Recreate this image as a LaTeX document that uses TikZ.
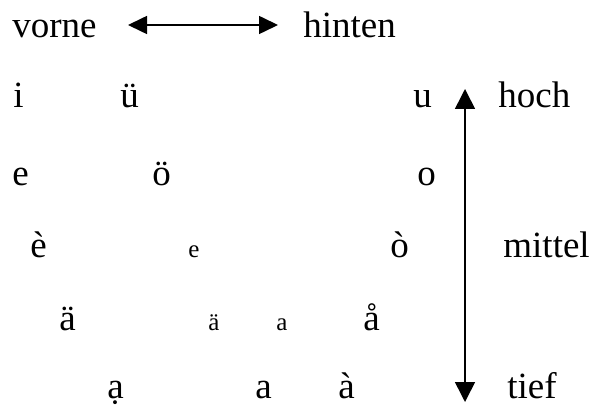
\documentclass[tikz,border=0pt]{standalone}
\usepackage{fontspec}
\setmainfont{Liberation Serif}
\usetikzlibrary{arrows.meta}

\begin{document}
\begin{tikzpicture}[x=0.5pt, y=-0.5pt,
    vow/.style={anchor=base west, inner sep=0pt, font=\fontsize{18.5}{22}\selectfont},
    vows/.style={vow, font=\fontsize{12.5}{15}\selectfont},
    arr/.style={{Triangle[length=9.5pt,width=9pt]}-{Triangle[length=9.5pt,width=9pt]},
      line width=0.8pt}]
\useasboundingbox (0,0) rectangle (593,405);

% --- vorne / hinten ---
\node[vow] (vorne) at (12,38) {vorne};
\node[vow] (hinten) at (303,38) {hinten};
\coordinate (hl) at (128,25);
\coordinate (hr) at (278,25);
\draw[arr] (hl) -- (hr);

% --- vowels ---
\node[vow] (i) at (13,108) {i};
\node[vow] (ue) at (120,108) {ü};
\node[vow] (u) at (413,108) {u};

\node[vow] (e) at (12,186) {e};
\node[vow] (oe) at (152,186) {ö};
\node[vow] (o) at (417,186) {o};

\node[vow] (eg) at (30,258) {è};
\node[vows] (es) at (188,258) {e};
\node[vow] (og) at (390,258) {ò};

\node[vow] (ae) at (59,330) {ä};
\node[vows] (aes) at (208,330) {ä};
\node[vows] (as) at (276,330) {a};
\node[vow] (ar) at (363,330) {å};

\node[vow] (ad) at (107,398) {ạ};
\node[vow] (a) at (255,398) {a};
\node[vow] (ag) at (338,398) {à};

% --- hoch / tief ---
\node[vow] (hoch) at (498,108) {hoch};
\node[vow] (mittel) at (503,258) {mittel};
\node[vow] (tief) at (507,398) {tief};
\coordinate (vt) at (465,89);
\coordinate (vb) at (465,402);
\draw[arr, {Triangle[length=10pt,width=10pt]}-{Triangle[length=10pt,width=10pt]}] (vt) -- (vb);
\end{tikzpicture}
\end{document}
